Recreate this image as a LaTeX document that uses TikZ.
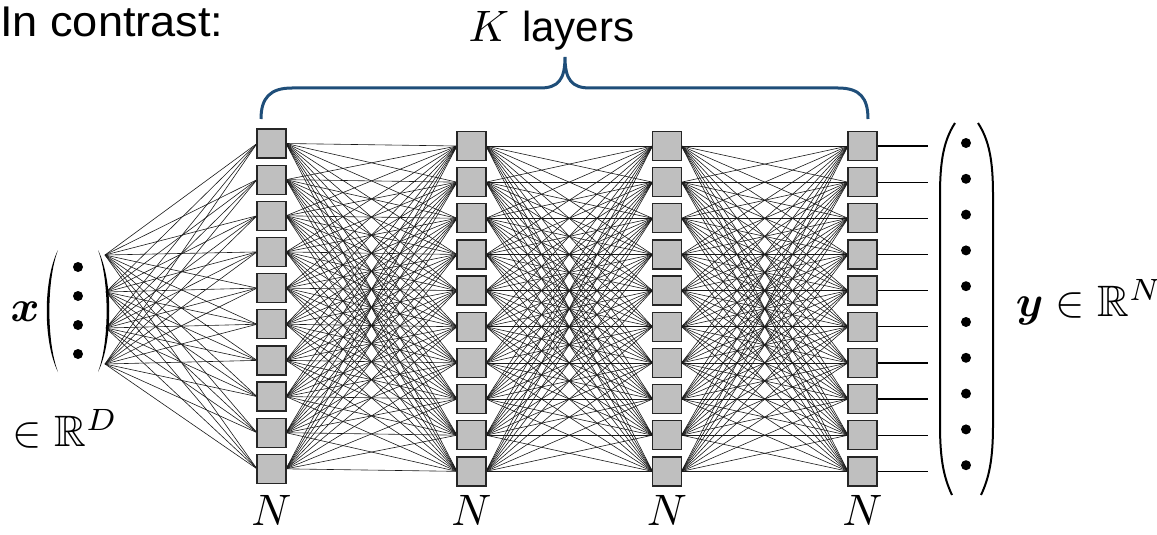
\documentclass[tikz,border=0pt]{standalone}
\usepackage{amsmath,amssymb,bm}
\usepackage{graphicx}
\usepackage{fontspec}
\newfontfamily\arialf{Liberation Sans}
\definecolor{bracecol}{HTML}{1F4E79}
\pgfdeclarelayer{back}
\pgfsetlayers{back,main}
\begin{document}
\begin{tikzpicture}[x=1pt,y=-1pt,
  unit/.style={draw=black!85, fill=black!25, line width=1.3pt, minimum size=29pt, inner sep=0pt, outer sep=0pt},
  wire/.style={line width=0.6pt, draw=black!90},
  outwire/.style={line width=1.3pt, draw=black},
  dotn/.style={circle, fill=black, minimum size=10pt, inner sep=0pt},
  bigparen/.style={line width=2pt, draw=black},
  mathlbl/.style={scale=4.4, inner sep=0pt},
  bracestyle/.style={draw=bracecol, line width=3pt}]
\useasboundingbox (0,0) rectangle (1157,535);

% units
\foreach \k/\xx/\yy in {1/271.5/143.5, 2/471.5/146, 3/667/146, 4/862.5/146}{
  \foreach \i in {1,...,10}{
    \node[unit] (L\k-\i) at (\xx, {\yy+36.15*(\i-1)}) {};
  }
  \node[mathlbl, anchor=base] (N\k) at (\xx,525) {$N$};
}

% input vector
\foreach \i/\yy in {1/267,2/296,3/325,4/354}{
  \node[dotn] (xd\i) at (78,\yy) {};
}
\fill (58,250) .. controls (43,280) and (43,342) .. (58,372) .. controls (46.5,342) and (46.5,280) .. (58,250) -- cycle;
\fill (98,250) .. controls (113,280) and (113,342) .. (98,372) .. controls (109.5,342) and (109.5,280) .. (98,250) -- cycle;
\coordinate (in1) at (105,255);
\coordinate (in2) at (106,292);
\coordinate (in3) at (106,328);
\coordinate (in4) at (105,364);

% output vector
\foreach \i in {1,...,10}{
  \node[dotn] (yd\i) at (966, {143+35.8*(\i-1)}) {};
}
\draw[bigparen] (955,123) .. controls (944,140) and (940,160) .. (940,195) -- (940,425) .. controls (940,460) and (944,478) .. (952,495);
\draw[bigparen] (978,123) .. controls (989,140) and (993,160) .. (993,195) -- (993,425) .. controls (993,460) and (989,478) .. (981,495);

\begin{pgfonlayer}{back}
  \foreach \i in {1,...,4}{
    \foreach \j in {1,...,10}{
      \draw[wire] (in\i) -- (L1-\j.west);
    }
  }
  \foreach \k in {1,2,3}{
    \pgfmathtruncatemacro{\kn}{\k+1}
    \foreach \i in {1,...,10}{
      \foreach \j in {1,...,10}{
        \draw[wire] (L\k-\i.east) -- (L\kn-\j.west);
      }
    }
  }
  \foreach \i in {1,...,10}{
    \path (L4-\i.east) ++(51,0) coordinate (out\i);
    \draw[outwire] (L4-\i.east) -- (out\i);
  }
\end{pgfonlayer}

% brace
\draw[bracestyle] (261,119) .. controls (261,98) and (270,88) .. (292,88) -- (540,88) .. controls (558,88) and (565,80) .. (565,57) .. controls (565,80) and (572,88) .. (590,88) -- (838,88) .. controls (860,88) and (868,98) .. (868,119);

% labels
\node[anchor=base west, inner sep=0pt] (title) at (0,37) {\arialf\fontsize{43}{50}\selectfont\scalebox{1.05}[1]{In contrast:}};
\node[mathlbl, anchor=base] (K) at (489,42) {$K$};
\node[anchor=base west, inner sep=0pt] (layers) at (522,42) {\arialf\fontsize{42}{50}\selectfont layers};
\node[mathlbl, anchor=base] (xl) at (25,321) {$\bm{x}$};
\node[mathlbl, anchor=base west] (rd) at (12,446) {$\in\mathbb{R}^D$};
\node[mathlbl, anchor=base west] (yl) at (1015,316) {$\bm{y}\in\mathbb{R}^N$};
\end{tikzpicture}
\end{document}
